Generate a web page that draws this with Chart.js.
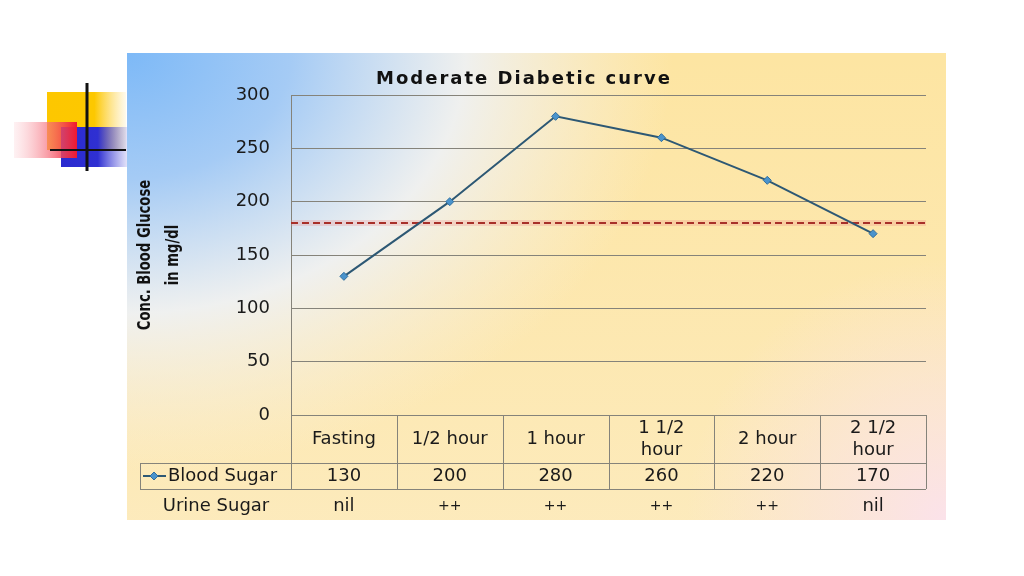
<!DOCTYPE html>
<html><head><meta charset="utf-8">
<script src="https://cdn.jsdelivr.net/npm/chart.js@4/dist/chart.umd.min.js"></script>
<style>html,body{margin:0;padding:0;background:#fff;}canvas{display:block;}</style>
</head><body>
<canvas id="c" width="1024" height="576"></canvas>
<script>
const chartTitle = 'Moderate Diabetic curve';
const yAxisTitle = ['Conc. Blood Glucose', 'in mg/dl'];
const categories = [['Fasting'], ['1/2 hour'], ['1 hour'], ['1 1/2', 'hour'], ['2 hour'], ['2 1/2', 'hour']];
const bloodSugar = [130, 200, 280, 260, 220, 170];
const urineSugar = ['nil', '++', '++', '++', '++', 'nil'];
const seriesName = 'Blood Sugar';
const secondRowName = 'Urine Sugar';
const thresholdValue = 180;
const yTicks = [0, 50, 100, 150, 200, 250, 300];

const FONT = "'Comic Sans MS','DejaVu Sans',sans-serif";
const LINE_COLOR = '#2d5874';
const GRID_COLOR = '#85837a';

function line(ctx, x1, y1, x2, y2) { ctx.beginPath(); ctx.moveTo(x1, y1); ctx.lineTo(x2, y2); ctx.stroke(); }

const slidePlugin = {
  id: 'slide',
  beforeDraw(chart) {
    const ctx = chart.ctx;
    ctx.save();
    ctx.fillStyle = '#ffffff'; ctx.fillRect(0, 0, 1024, 576);
    // decorative squares
    let g = ctx.createLinearGradient(47, 0, 126, 0);
    g.addColorStop(0, '#fdc700'); g.addColorStop(0.6, '#fdc800'); g.addColorStop(1, 'rgba(253,210,80,0.1)');
    ctx.fillStyle = g; ctx.fillRect(47, 92, 79, 58);
    g = ctx.createLinearGradient(61, 0, 128, 0);
    g.addColorStop(0, '#2a2ad0'); g.addColorStop(0.55, '#2f30d2'); g.addColorStop(1, 'rgba(90,90,220,0.15)');
    ctx.fillStyle = g; ctx.fillRect(61, 127, 67, 40);
    g = ctx.createLinearGradient(14, 0, 77, 0);
    g.addColorStop(0, 'rgba(252,210,215,0.3)'); g.addColorStop(1, '#f0182e');
    ctx.fillStyle = g; ctx.fillRect(14, 122, 63, 36);
    ctx.strokeStyle = '#111'; ctx.lineWidth = 3; line(ctx, 87, 83, 87, 171);
    ctx.lineWidth = 2; line(ctx, 50, 150, 126, 150);

    // panel background
    const px = 127, py = 53, pw = 819, ph = 467;
    ctx.beginPath(); ctx.rect(px, py, pw, ph); ctx.clip();
    ctx.fillStyle = '#fde5a2'; ctx.fillRect(px, py, pw, ph);
    g = ctx.createLinearGradient(0, py, 0, py + ph);
    g.addColorStop(0, 'rgba(252,236,200,0)'); g.addColorStop(1, 'rgba(252,238,205,0.6)');
    ctx.fillStyle = g; ctx.fillRect(px, py, pw, ph);
    ctx.save();
    ctx.translate(px, py); ctx.scale(1.3, 1);
    g = ctx.createRadialGradient(0, 0, 0, 0, 0, 420);
    g.addColorStop(0, 'rgba(125,185,247,1)');
    g.addColorStop(0.3, 'rgba(165,203,245,1)');
    g.addColorStop(0.62, 'rgba(238,241,245,0.92)');
    g.addColorStop(1, 'rgba(248,240,225,0)');
    ctx.fillStyle = g; ctx.fillRect(0, 0, pw, ph);
    ctx.restore();
    g = ctx.createRadialGradient(px + pw, py + ph, 0, px + pw, py + ph, 260);
    g.addColorStop(0, 'rgba(251,226,234,1)');
    g.addColorStop(0.5, 'rgba(251,228,225,0.6)');
    g.addColorStop(1, 'rgba(251,228,225,0)');
    ctx.fillStyle = g; ctx.fillRect(px, py, pw, ph);
    ctx.restore();
  },
  beforeDatasetsDraw(chart) {
    const ctx = chart.ctx, ca = chart.chartArea, ys = chart.scales.y;
    const y = ys.getPixelForValue(thresholdValue);
    ctx.save();
    ctx.strokeStyle = 'rgba(235,130,130,0.25)'; ctx.lineWidth = 6; line(ctx, ca.left, y, ca.right, y);
    ctx.strokeStyle = '#a8302a'; ctx.lineWidth = 2; ctx.setLineDash([7, 4]);
    line(ctx, ca.left, y, ca.right, y);
    ctx.restore();
  },
  afterDraw(chart) {
    const ctx = chart.ctx, ca = chart.chartArea, xs = chart.scales.x;
    ctx.save();
    // title
    ctx.fillStyle = '#111'; ctx.textAlign = 'center'; ctx.textBaseline = 'middle';
    ctx.font = "bold 18px " + FONT;
    ctx.letterSpacing = '2px';
    ctx.fillText(chartTitle, 524, 79);
    ctx.letterSpacing = '0px';
    // y axis title
    ctx.save();
    ctx.translate(160, 255); ctx.rotate(-Math.PI / 2); ctx.scale(0.86, 1);
    ctx.font = "bold 17px 'Liberation Sans Narrow','DejaVu Sans Condensed','DejaVu Sans',sans-serif";
    ctx.fillText(yAxisTitle[0], 0, -14);
    ctx.fillText(yAxisTitle[1], 0, 14);
    ctx.restore();

    // data table
    const n = categories.length;
    const colW = (xs.getPixelForValue(n - 1) - xs.getPixelForValue(0)) / (n - 1);
    const y0 = ca.bottom, y1 = y0 + 48, y2 = y1 + 26, legendLeft = 140;
    ctx.strokeStyle = GRID_COLOR; ctx.lineWidth = 1;
    for (let i = 0; i <= n; i++) {
      const x = Math.round(xs.getPixelForValue(i) - colW / 2) + 0.5;
      line(ctx, x, y0, x, y2);
    }
    line(ctx, legendLeft, y1 + 0.5, ca.right, y1 + 0.5);
    line(ctx, legendLeft, y2 + 0.5, ca.right, y2 + 0.5);
    line(ctx, legendLeft + 0.5, y1, legendLeft + 0.5, y2);

    ctx.fillStyle = '#1a1a1a';
    ctx.font = "18px " + FONT;
    for (let i = 0; i < n; i++) {
      const cx = xs.getPixelForValue(i);
      const lab = categories[i];
      if (lab.length === 1) ctx.fillText(lab[0], cx, y0 + 24);
      else { ctx.fillText(lab[0], cx, y0 + 13); ctx.fillText(lab[1], cx, y0 + 35); }
      ctx.fillText(String(bloodSugar[i]), cx, y1 + 13);
      if (urineSugar[i] === '++') { ctx.font = "14px " + FONT; ctx.fillText(urineSugar[i], cx, y2 + 17); ctx.font = "18px " + FONT; }
      else ctx.fillText(urineSugar[i], cx, y2 + 17);
    }
    // legend key
    const ly = y1 + 13;
    ctx.strokeStyle = LINE_COLOR; ctx.lineWidth = 2; line(ctx, 143, ly, 166, ly);
    ctx.fillStyle = '#4a93cc'; ctx.strokeStyle = '#2f6e9e'; ctx.lineWidth = 1;
    ctx.beginPath(); ctx.moveTo(154, ly - 4); ctx.lineTo(158, ly); ctx.lineTo(154, ly + 4); ctx.lineTo(150, ly); ctx.closePath(); ctx.fill(); ctx.stroke();
    ctx.fillStyle = '#1a1a1a'; ctx.textAlign = 'left';
    ctx.fillText(seriesName, 168, ly);
    ctx.textAlign = 'center';
    ctx.fillText(secondRowName, 216, y2 + 17);
    ctx.restore();
  }
};

new Chart(document.getElementById('c'), {
  type: 'line',
  data: {
    labels: categories.map(c => c.join(' ')),
    datasets: [{
      label: seriesName,
      data: bloodSugar,
      borderColor: LINE_COLOR,
      borderWidth: 2,
      tension: 0,
      pointStyle: 'rectRot',
      pointRadius: 4,
      pointBackgroundColor: '#4a93cc',
      pointBorderColor: '#2f6e9e',
      pointBorderWidth: 1
    }]
  },
  options: {
    responsive: false,
    animation: false,
    devicePixelRatio: 1,
    layout: { padding: { left: 0, top: 95, right: 98, bottom: 161 } },
    plugins: { legend: { display: false }, title: { display: false }, tooltip: { enabled: false } },
    scales: {
      x: { display: false, offset: true },
      y: {
        min: 0, max: 300,
        afterBuildTicks: s => { s.ticks = yTicks.map(v => ({ value: v })); },
        afterFit: s => { s.width = 291; },
        ticks: { color: '#1a1a1a', font: { size: 18, family: FONT }, padding: 21 },
        grid: { color: GRID_COLOR, drawTicks: false, lineWidth: 1 },
        border: { display: true, color: GRID_COLOR }
      }
    }
  },
  plugins: [slidePlugin]
});
</script>
</body></html>
